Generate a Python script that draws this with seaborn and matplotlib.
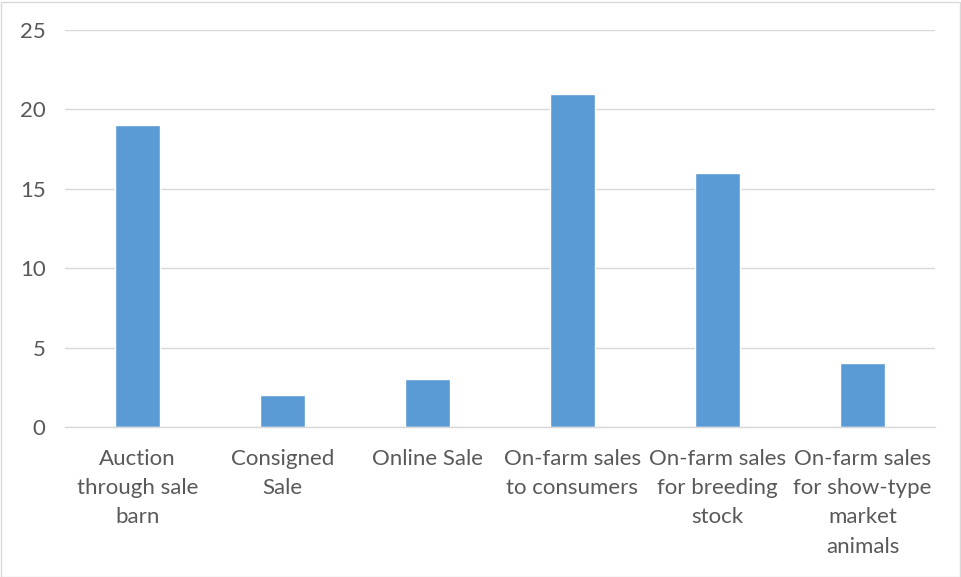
import matplotlib
matplotlib.use("Agg")
import matplotlib.pyplot as plt
import seaborn as sns
import pandas as pd

categories = [
    "Auction\nthrough sale\nbarn",
    "Consigned\nSale",
    "Online Sale",
    "On-farm sales\nto consumers",
    "On-farm sales\nfor breeding\nstock",
    "On-farm sales\nfor show-type\nmarket\nanimals",
]
counts = [19, 2, 3, 21, 16, 4]
y_ticks = [0, 5, 10, 15, 20, 25]

df = pd.DataFrame({"category": categories, "count": counts})

sns.set_theme(style="white")
plt.rcParams["font.family"] = ["Lato", "DejaVu Sans"]

fig = plt.figure(figsize=(9.62, 5.77), dpi=100)
ax = fig.add_axes([65 / 962, 1 - 427 / 577, 870 / 962, 397 / 577])

sns.barplot(data=df, x="category", y="count", color="#5B9BD5",
            width=0.31, saturation=1, ax=ax, zorder=3)

ax.set_ylim(0, 25)
ax.set_yticks(y_ticks)
ax.set_xlim(-0.5, len(categories) - 0.5)
ax.yaxis.grid(True, color="#D9D9D9", linewidth=1, zorder=0)
ax.set_xlabel("")
ax.set_ylabel("")
for s in ["top", "right", "left"]:
    ax.spines[s].set_visible(False)
ax.spines["bottom"].set_color("#D9D9D9")
ax.spines["bottom"].set_linewidth(1)
ax.spines["bottom"].set_zorder(4)
ax.tick_params(axis="both", length=0, labelsize=16, colors="#595959")
ax.tick_params(axis="y", pad=14)
ax.tick_params(axis="x", pad=16)
for lbl in ax.get_xticklabels():
    lbl.set_linespacing(1.57)

fig.patches.append(plt.Rectangle((0.5 / 962, 0.5 / 577), 960 / 962, 575 / 577,
                                 transform=fig.transFigure, fill=False,
                                 edgecolor="#D9D9D9", linewidth=1))

fig.savefig("out.png", dpi=100, facecolor="white")
